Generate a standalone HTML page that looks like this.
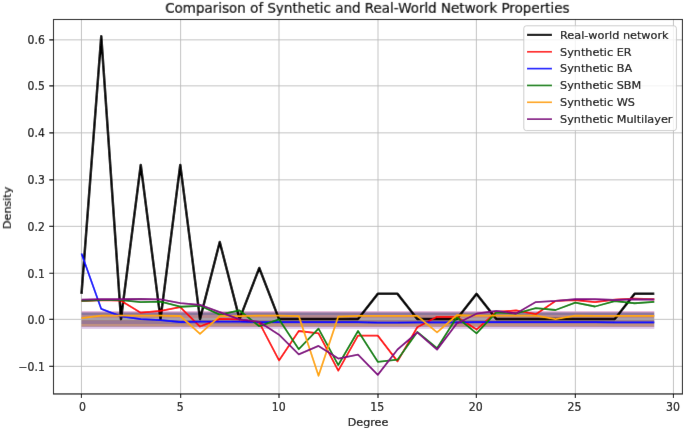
<!DOCTYPE html>
<html><head><meta charset="utf-8"><style>html,body{margin:0;padding:0;background:#fff;width:685px;height:430px;overflow:hidden}</style></head>
<body><div style="width:685px;height:430px;will-change:transform"><svg width="685" height="430" viewBox="0 0 685 430" style="display:block">
<defs><filter id="bl" x="0" y="0" width="1" height="1" filterUnits="objectBoundingBox"><feConvolveMatrix order="3" kernelMatrix="0.00163 0.03713 0.00163 0.03713 0.84497 0.03713 0.00163 0.03713 0.00163" edgeMode="duplicate" preserveAlpha="true"/></filter></defs>
<g filter="url(#bl)">
<rect width="685" height="430" fill="#fff"/>
<path d="M81.45 19.5V393.95M180.64 19.5V393.95M279.00 19.5V393.95M378.00 19.5V393.95M476.35 19.5V393.95M575.35 19.5V393.95M673.45 19.5V393.95M53.5 366.33H682.45M53.5 319.33H682.45M53.5 273.23H682.45M53.5 226.33H682.45M53.5 179.86H682.45M53.5 132.86H682.45M53.5 85.86H682.45M53.5 39.86H682.45" stroke="#bcbcbc" stroke-width="0.9" fill="none"/>
<linearGradient id="bg" gradientUnits="userSpaceOnUse" x1="0" y1="311.3" x2="0" y2="328.9"><stop offset="0.0000" stop-color="#dca0cc"/><stop offset="0.0511" stop-color="#dca0cc"/><stop offset="0.0511" stop-color="#b08cb4"/><stop offset="0.0966" stop-color="#b08cb4"/><stop offset="0.0966" stop-color="#8a769c"/><stop offset="0.2102" stop-color="#8a769c"/><stop offset="0.2102" stop-color="#b48890"/><stop offset="0.3352" stop-color="#b48890"/><stop offset="0.3352" stop-color="#b48a92"/><stop offset="0.3920" stop-color="#b48a92"/><stop offset="0.3920" stop-color="#a8a0a8"/><stop offset="0.4716" stop-color="#a8a0a8"/><stop offset="0.4716" stop-color="#a08088"/><stop offset="0.5739" stop-color="#a08088"/><stop offset="0.5739" stop-color="#9a7894"/><stop offset="0.6761" stop-color="#9a7894"/><stop offset="0.6761" stop-color="#9c7890"/><stop offset="0.7273" stop-color="#9c7890"/><stop offset="0.7273" stop-color="#c09080"/><stop offset="0.8295" stop-color="#c09080"/><stop offset="0.8295" stop-color="#b890a8"/><stop offset="0.8977" stop-color="#b890a8"/><stop offset="0.8977" stop-color="#e0c8e8"/><stop offset="1.0000" stop-color="#e0c8e8"/></linearGradient>
<rect x="81.50" y="311.3" width="572.81" height="17.60" fill="url(#bg)"/>
<polyline points="81.50,293.86 101.25,36.25 121.00,319.10 140.76,164.89 160.51,319.10 180.26,164.89 200.01,319.10 219.76,242.02 239.52,319.10 259.27,267.96 279.02,319.10 298.77,319.10 318.52,319.10 338.28,319.10 358.03,319.10 377.78,293.86 397.53,293.86 417.28,319.10 437.04,319.10 456.79,319.10 476.54,293.86 496.29,319.10 516.04,319.10 535.80,319.10 555.55,319.10 575.30,319.10 595.05,319.10 614.80,319.10 634.56,293.86 654.31,293.86" fill="none" stroke="#000000" stroke-width="2.5" stroke-linejoin="round" stroke-linecap="butt"/>
<polyline points="81.50,301.14 101.25,300.20 121.00,300.67 140.76,312.71 160.51,310.93 180.26,307.20 200.01,326.52 219.76,318.87 239.52,319.33 259.27,322.60 279.02,360.39 298.77,331.00 318.52,333.33 338.28,370.66 358.03,335.66 377.78,335.66 397.53,361.33 417.28,327.27 437.04,316.81 456.79,316.81 476.54,329.60 496.29,311.87 516.04,310.47 535.80,314.20 555.55,300.90 575.30,300.20 595.05,302.07 614.80,299.60 634.56,298.62 654.31,299.27" fill="none" stroke="#ff0000" stroke-width="1.8" stroke-linejoin="round" stroke-linecap="butt"/>
<polyline points="81.50,253.54 101.25,308.93 121.00,316.30 140.76,319.10 160.51,320.17 180.26,321.99 200.01,321.67 219.76,321.67 239.52,321.67 259.27,322.13 279.02,322.13 298.77,322.13 318.52,322.13 338.28,322.13 358.03,322.13 377.78,322.60 397.53,322.60 417.28,322.41 437.04,322.41 456.79,322.41 476.54,322.13 496.29,322.13 516.04,322.13 535.80,322.13 555.55,322.13 575.30,322.13 595.05,322.13 614.80,322.41 634.56,322.41 654.31,322.41" fill="none" stroke="#0000ff" stroke-width="1.8" stroke-linejoin="round" stroke-linecap="butt"/>
<polyline points="81.50,300.81 101.25,300.20 121.00,300.20 140.76,302.07 160.51,301.60 180.26,306.74 200.01,305.80 219.76,314.67 239.52,310.47 259.27,326.19 279.02,319.33 298.77,349.20 318.52,328.67 338.28,365.06 358.03,331.00 377.78,361.79 397.53,359.69 417.28,331.93 437.04,348.26 456.79,317.19 476.54,333.33 496.29,312.33 516.04,313.50 535.80,308.13 555.55,310.00 575.30,302.54 595.05,306.50 614.80,301.14 634.56,303.24 654.31,301.84" fill="none" stroke="#008000" stroke-width="1.8" stroke-linejoin="round" stroke-linecap="butt"/>
<polyline points="81.50,318.07 101.25,315.69 121.00,315.69 140.76,315.69 160.51,315.69 180.26,316.02 200.01,333.80 219.76,316.07 239.52,316.07 259.27,315.60 279.02,315.60 298.77,316.07 318.52,375.79 338.28,316.53 358.03,315.93 377.78,315.93 397.53,315.93 417.28,315.93 437.04,332.40 456.79,315.27 476.54,315.60 496.29,315.60 516.04,315.60 535.80,315.60 555.55,319.10 575.30,315.60 595.05,315.79 614.80,315.79 634.56,315.79 654.31,315.79" fill="none" stroke="#ffa500" stroke-width="1.8" stroke-linejoin="round" stroke-linecap="butt"/>
<polyline points="81.50,299.60 101.25,299.27 121.00,299.27 140.76,298.99 160.51,299.41 180.26,303.14 200.01,304.78 219.76,312.10 239.52,319.33 259.27,321.90 279.02,334.73 298.77,354.33 318.52,345.93 338.28,358.53 358.03,354.61 377.78,374.86 397.53,349.52 417.28,332.40 437.04,349.66 456.79,323.53 476.54,313.73 496.29,310.93 516.04,313.50 535.80,302.07 555.55,300.90 575.30,299.27 595.05,299.27 614.80,300.02 634.56,299.27 654.31,299.50" fill="none" stroke="#800080" stroke-width="1.8" stroke-linejoin="round" stroke-linecap="butt"/>
<rect x="53.5" y="19.5" width="628.95" height="374.45" fill="none" stroke="#000" stroke-width="1.1"/>
<path d="M81.45 393.95v4M180.64 393.95v4M279.00 393.95v4M378.00 393.95v4M476.35 393.95v4M575.35 393.95v4M673.45 393.95v4M53.5 366.33h-4.2M53.5 319.33h-4.2M53.5 273.23h-4.2M53.5 226.33h-4.2M53.5 179.86h-4.2M53.5 132.86h-4.2M53.5 85.86h-4.2M53.5 39.86h-4.2" stroke="#000" stroke-width="1.1" fill="none"/>
<g font-family="DejaVu Sans, sans-serif" fill="#000" stroke="#000" stroke-width="0.18">
<text transform="translate(82.50,410.85) scale(0.915,1)" font-size="12.0" text-anchor="middle">0</text>
<text transform="translate(180.34,410.85) scale(0.915,1)" font-size="12.0" text-anchor="middle">5</text>
<text transform="translate(278.76,410.85) scale(0.915,1)" font-size="12.0" text-anchor="middle">10</text>
<text transform="translate(377.30,410.85) scale(0.915,1)" font-size="12.0" text-anchor="middle">15</text>
<text transform="translate(475.82,410.85) scale(0.915,1)" font-size="12.0" text-anchor="middle">20</text>
<text transform="translate(574.55,410.85) scale(0.915,1)" font-size="12.0" text-anchor="middle">25</text>
<text transform="translate(672.90,410.85) scale(0.915,1)" font-size="12.0" text-anchor="middle">30</text>
<text transform="translate(44.80,370.63) scale(0.94,1)" font-size="11.5" text-anchor="end">−0.1</text>
<text transform="translate(44.80,323.63) scale(0.94,1)" font-size="11.5" text-anchor="end">0.0</text>
<text transform="translate(44.80,277.53) scale(0.94,1)" font-size="11.5" text-anchor="end">0.1</text>
<text transform="translate(44.80,230.63) scale(0.94,1)" font-size="11.5" text-anchor="end">0.2</text>
<text transform="translate(44.80,184.16) scale(0.94,1)" font-size="11.5" text-anchor="end">0.3</text>
<text transform="translate(44.80,137.16) scale(0.94,1)" font-size="11.5" text-anchor="end">0.4</text>
<text transform="translate(44.80,90.16) scale(0.94,1)" font-size="11.5" text-anchor="end">0.5</text>
<text transform="translate(44.80,44.16) scale(0.94,1)" font-size="11.5" text-anchor="end">0.6</text>
<text transform="translate(368.00,425.60) scale(1.03,1)" font-size="10.8" text-anchor="middle">Degree</text>
<text transform="translate(10.9,207.9) rotate(-90) scale(1.03,1)" font-size="10.8" text-anchor="middle">Density</text>
<text transform="translate(367.30,12.85) scale(0.943,1)" font-size="14.3" text-anchor="middle">Comparison of Synthetic and Real-World Network Properties</text>
</g>
<rect x="523.8" y="25.8" width="152.60" height="104.80" rx="2.5" fill="#fff" fill-opacity="0.8" stroke="#c4c4c4" stroke-opacity="0.85" stroke-width="1"/>
<path d="M527 34.9H552" stroke="#000000" stroke-width="2.2"/>
<g font-family="DejaVu Sans, sans-serif" fill="#000" stroke="#000" stroke-width="0.18"><text transform="translate(560.00,38.75) scale(0.998,1)" font-size="11.3" text-anchor="start">Real-world network</text></g>
<path d="M527 51.75H552" stroke="#ff0000" stroke-width="1.6"/>
<g font-family="DejaVu Sans, sans-serif" fill="#000" stroke="#000" stroke-width="0.18"><text transform="translate(560.00,55.60) scale(0.998,1)" font-size="11.3" text-anchor="start">Synthetic ER</text></g>
<path d="M527 68.6H552" stroke="#0000ff" stroke-width="1.6"/>
<g font-family="DejaVu Sans, sans-serif" fill="#000" stroke="#000" stroke-width="0.18"><text transform="translate(560.00,72.45) scale(0.998,1)" font-size="11.3" text-anchor="start">Synthetic BA</text></g>
<path d="M527 85.45H552" stroke="#008000" stroke-width="1.6"/>
<g font-family="DejaVu Sans, sans-serif" fill="#000" stroke="#000" stroke-width="0.18"><text transform="translate(560.00,89.30) scale(0.998,1)" font-size="11.3" text-anchor="start">Synthetic SBM</text></g>
<path d="M527 102.3H552" stroke="#ffa500" stroke-width="1.6"/>
<g font-family="DejaVu Sans, sans-serif" fill="#000" stroke="#000" stroke-width="0.18"><text transform="translate(560.00,106.15) scale(0.998,1)" font-size="11.3" text-anchor="start">Synthetic WS</text></g>
<path d="M527 119.15H552" stroke="#800080" stroke-width="1.6"/>
<g font-family="DejaVu Sans, sans-serif" fill="#000" stroke="#000" stroke-width="0.18"><text transform="translate(560.00,123.00) scale(0.998,1)" font-size="11.3" text-anchor="start">Synthetic Multilayer</text></g>
</g>
</svg></div></body></html>
